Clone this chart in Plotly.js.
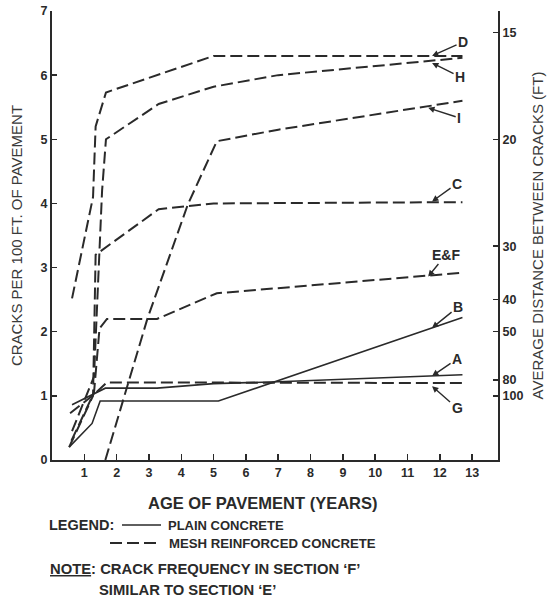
<!DOCTYPE html>
<html>
<head>
<meta charset="utf-8">
<script src="https://cdn.plot.ly/plotly-3.0.1.min.js"></script>
<style>html,body{margin:0;padding:0;background:#fff;}#chart{width:550px;height:604px;}</style>
</head>
<body>
<div id="chart"></div>
<script>
// ---- data ----
const yearTicks = [1,2,3,4,5,6,7,8,9,10,11,12,13];
const crackTicks = [0,1,2,3,4,5,6,7];
const distLabels = [15,20,30,40,50,80,100];   // average distance between cracks (ft)

// plain concrete (solid)
const yearsA  = [0.62, 1.65, 3.25, 5.0, 7.0, 12.7];
const cracksA = [0.86, 1.12, 1.12, 1.19, 1.22, 1.33];
const yearsB  = [0.53, 1.24, 1.49, 5.15, 12.7];
const cracksB = [0.20, 0.57, 0.92, 0.92, 2.22];

// mesh reinforced concrete (dashed)
const yearsC  = [0.53, 1.27, 1.35, 3.3, 5.0, 12.7];
const cracksC = [0.20, 1.00, 3.20, 3.91, 4.00, 4.02];
const yearsD  = [0.62, 1.27, 1.35, 1.67, 5.0, 12.7];
const cracksD = [2.52, 4.10, 5.20, 5.73, 6.30, 6.30];
const yearsEF  = [0.60, 1.30, 1.47, 1.70, 3.25, 5.1, 12.7];
const cracksEF = [0.30, 1.05, 2.05, 2.20, 2.20, 2.60, 2.92];
const yearsG  = [0.56, 1.25, 1.70, 12.7];
const cracksG = [0.73, 1.00, 1.21, 1.20];
const yearsH  = [0.62, 1.30, 1.55, 1.67, 3.3, 5.0, 7.0, 12.7];
const cracksH = [0.45, 1.30, 4.20, 5.00, 5.55, 5.82, 6.00, 6.27];
const yearsI  = [1.65, 2.95, 4.2, 5.1, 7.0, 12.7];
const cracksI = [0.00, 2.20, 3.98, 4.97, 5.15, 5.60];

// curve labels and where their arrows point
const labelText  = ['D', 'H', 'I', 'C', 'E&F', 'B', 'A', 'G'];
const labelYear  = [11.76, 11.76, 11.64, 11.76, 11.64, 11.76, 11.76, 11.76];
const labelCrack = [6.30, 6.19, 5.49, 4.03, 2.86, 2.06, 1.31, 1.15];

// ---- styling ----
const ink = '#2a2a2a';
const FONT = 'Liberation Sans, Arial, sans-serif';
const dashPat = '12px,5px';

const seriesDefs = [
  {x: yearsA, y: cracksA, dash: 'solid', w: 1.6},
  {x: yearsB, y: cracksB, dash: 'solid', w: 1.6},
  {x: yearsC, y: cracksC, dash: dashPat, w: 2},
  {x: yearsD, y: cracksD, dash: dashPat, w: 2},
  {x: yearsEF, y: cracksEF, dash: dashPat, w: 2},
  {x: yearsG, y: cracksG, dash: dashPat, w: 2},
  {x: yearsH, y: cracksH, dash: dashPat, w: 2},
  {x: yearsI, y: cracksI, dash: dashPat, w: 2}
];

const traces = seriesDefs.map(s => ({
  type: 'scatter', mode: 'lines', x: s.x, y: s.y,
  line: {color: ink, width: s.w, dash: s.dash},
  hoverinfo: 'skip', showlegend: false
}));
// carrier for the right-hand axis
traces.push({type: 'scatter', mode: 'lines', x: yearsG, y: cracksG, yaxis: 'y2',
  line: {color: 'rgba(0,0,0,0)', width: 0}, hoverinfo: 'skip', showlegend: false});

const offsets = [[31,-14],[28,14],[31,10],[25,-18],[18,-22],[26,-21],[25,-17],[25,22]];
const annotations = labelText.map((t, i) => ({
  x: labelYear[i], y: labelCrack[i], xref: 'x', yref: 'y',
  text: '<b>' + t.replace('&', '&amp;') + '</b>',
  showarrow: true, ax: offsets[i][0], ay: offsets[i][1],
  arrowhead: 2, arrowsize: 0.9, arrowwidth: 1.4, arrowcolor: ink, standoff: 0,
  font: {family: FONT, size: 14, color: ink}
}));

// bottom text block (paper coords; plot area is y 11..460 px, x 52..498 px)
const px = v => (v - 52) / 446;
const py = v => (460 - v) / 449;
const txt = (s, x, y, size, anchor) => ({
  xref: 'paper', yref: 'paper', x: px(x), y: py(y), xanchor: anchor || 'left', yanchor: 'middle',
  text: s, showarrow: false, font: {family: FONT, size: size, color: ink}
});
annotations.push(txt('<b>AGE OF PAVEMENT (YEARS)</b>', 263, 503, 16.5, 'center'));
annotations.push(txt('<b>LEGEND:</b>', 47, 525, 14.5));
annotations.push(txt('<b>PLAIN CONCRETE</b>', 166, 525, 13));
annotations.push(txt('<b>MESH REINFORCED CONCRETE</b>', 167, 543, 13.2));
annotations.push(txt('<b><u>NOTE</u>: CRACK FREQUENCY IN SECTION ‘F’</b>', 48, 569, 14.8));
annotations.push(txt('<b>SIMILAR TO SECTION ‘E’</b>', 97, 590, 14.8));

const shapes = [
  {type: 'line', xref: 'paper', yref: 'paper', x0: px(122), x1: px(161), y0: py(525), y1: py(525),
   line: {color: ink, width: 1.6}},
  {type: 'line', xref: 'paper', yref: 'paper', x0: px(110), x1: px(161), y0: py(543), y1: py(543),
   line: {color: ink, width: 2, dash: '12px,5px'}}
];

const layout = {
  width: 550, height: 604,
  margin: {l: 52, r: 52, t: 11, b: 144},
  paper_bgcolor: '#ffffff', plot_bgcolor: '#ffffff',
  font: {family: FONT, color: ink},
  showlegend: false,
  xaxis: {
    range: [0, 13.8], tickvals: yearTicks, ticktext: yearTicks.map(String),
    ticks: 'inside', ticklen: 6, tickwidth: 1.5, tickcolor: ink,
    showline: true, linewidth: 2, linecolor: ink, showgrid: false, zeroline: false,
    tickfont: {family: FONT, size: 12.5, color: ink, weight: 'bold'}
  },
  yaxis: {
    range: [0, 7], tickvals: crackTicks, ticktext: crackTicks.map(String),
    ticks: 'inside', ticklen: 5, tickwidth: 1.5, tickcolor: ink,
    showline: true, linewidth: 2, linecolor: ink, showgrid: false, zeroline: false,
    tickfont: {family: FONT, size: 12.5, color: ink, weight: 'bold'},
    title: {text: 'CRACKS PER 100 FT. OF PAVEMENT', standoff: 14,
            font: {family: FONT, size: 15, color: '#3a3a3a'}},
    automargin: false
  },
  yaxis2: {
    overlaying: 'y', side: 'right', range: [0, 7],
    tickvals: distLabels.map(d => 100 / d), ticktext: distLabels.map(String),
    ticks: 'inside', ticklen: 5, tickwidth: 1.5, tickcolor: ink,
    showline: true, linewidth: 2, linecolor: ink, showgrid: false, zeroline: false,
    tickfont: {family: FONT, size: 12.5, color: ink, weight: 'bold'},
    title: {text: 'AVERAGE DISTANCE BETWEEN CRACKS (FT)', standoff: 10,
            font: {family: FONT, size: 15, color: '#3a3a3a'}},
    automargin: false
  },
  annotations: annotations,
  shapes: shapes
};

Plotly.newPlot('chart', traces, layout, {staticPlot: true, displayModeBar: false});
</script>
</body>
</html>
